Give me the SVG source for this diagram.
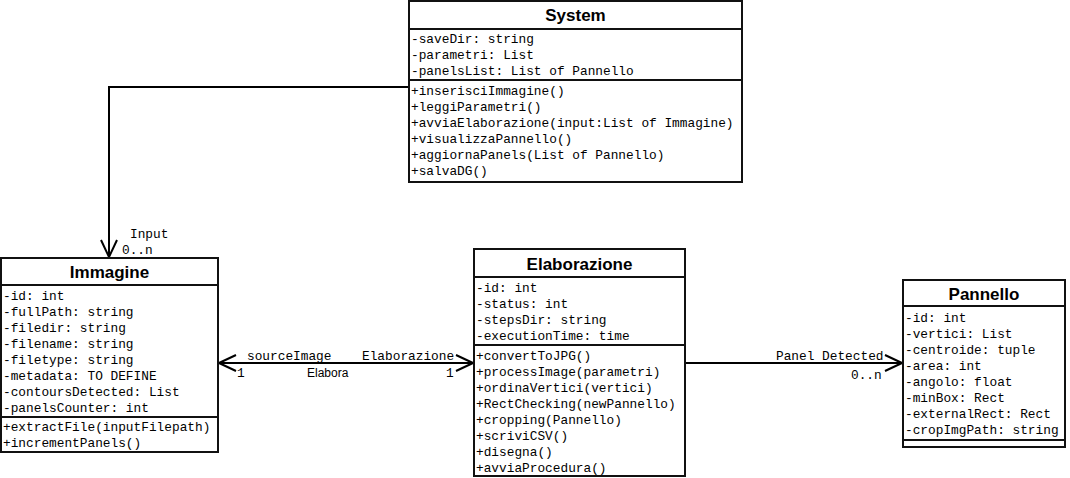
<svg xmlns="http://www.w3.org/2000/svg" width="1070" height="478" viewBox="0 0 1070 478">
  <defs>
    <style>
      .box { fill: #fff; stroke: #111; stroke-width: 2; }
      .sep { stroke: #111; stroke-width: 2; }
      .title { font-family: "Liberation Sans", Arial, sans-serif; font-weight: bold; font-size: 17px; fill: #000; text-anchor: middle; }
      .mono { font-family: "Liberation Mono", "Courier New", monospace; font-size: 12.8px; fill: #000; }
      .sans { font-family: "Liberation Sans", Arial, sans-serif; font-size: 12px; fill: #000; }
      .edge { fill: none; stroke: #000; stroke-width: 2; }
    </style>
    <marker id="open" viewBox="-1 -9 20 18" refX="17" refY="0" markerWidth="20" markerHeight="18" markerUnits="userSpaceOnUse" orient="auto-start-reverse">
      <path d="M0,-8 L17,0 L0,8" fill="none" stroke="#000" stroke-width="2"/>
    </marker>
  </defs>

  <!-- connectors -->
  <g id="connectors">
    <path class="edge" d="M409,87 H109 V257" marker-end="url(#open)"/>
    <text class="mono" x="130" y="238">Input</text>
    <text class="mono" x="122" y="254">0..n</text>

    <path class="edge" d="M219,363 H473" marker-start="url(#open)" marker-end="url(#open)"/>
    <text class="mono" x="247" y="360">sourceImage</text>
    <text class="mono" x="362" y="360">Elaborazione</text>
    <text class="mono" x="237" y="377">1</text>
    <text class="sans" x="307" y="377">Elabora</text>
    <text class="mono" x="446" y="377">1</text>

    <path class="edge" d="M685,363 H902" marker-end="url(#open)"/>
    <text class="mono" x="776" y="360">Panel Detected</text>
    <text class="mono" x="851" y="379">0..n</text>
  </g>

  <!-- System -->
  <g id="system">
    <rect class="box" x="409" y="1" width="333" height="181"/>
    <line class="sep" x1="409" y1="29" x2="742" y2="29"/>
    <line class="sep" x1="409" y1="80" x2="742" y2="80"/>
    <text class="title" x="575.5" y="21">System</text>
    <text class="mono" x="411" y="43">-saveDir: string</text>
    <text class="mono" x="411" y="59">-parametri: List</text>
    <text class="mono" x="411" y="75">-panelsList: List of Pannello</text>
    <text class="mono" x="411" y="95">+inserisciImmagine()</text>
    <text class="mono" x="411" y="111">+leggiParametri()</text>
    <text class="mono" x="411" y="127">+avviaElaborazione(input:List of Immagine)</text>
    <text class="mono" x="411" y="143">+visualizzaPannello()</text>
    <text class="mono" x="411" y="159">+aggiornaPanels(List of Pannello)</text>
    <text class="mono" x="411" y="175">+salvaDG()</text>
  </g>

  <!-- Immagine -->
  <g id="immagine">
    <rect class="box" x="1" y="258" width="217" height="194"/>
    <line class="sep" x1="1" y1="285" x2="218" y2="285"/>
    <line class="sep" x1="1" y1="417" x2="218" y2="417"/>
    <text class="title" x="109.5" y="278">Immagine</text>
    <text class="mono" x="3" y="300">-id: int</text>
    <text class="mono" x="3" y="316">-fullPath: string</text>
    <text class="mono" x="3" y="332">-filedir: string</text>
    <text class="mono" x="3" y="348">-filename: string</text>
    <text class="mono" x="3" y="364">-filetype: string</text>
    <text class="mono" x="3" y="380">-metadata: TO DEFINE</text>
    <text class="mono" x="3" y="396">-contoursDetected: List</text>
    <text class="mono" x="3" y="412">-panelsCounter: int</text>
    <text class="mono" x="3" y="431">+extractFile(inputFilepath)</text>
    <text class="mono" x="3" y="447">+incrementPanels()</text>
  </g>

  <!-- Elaborazione -->
  <g id="elaborazione">
    <rect class="box" x="474" y="249" width="211" height="227"/>
    <line class="sep" x1="474" y1="277" x2="685" y2="277"/>
    <line class="sep" x1="474" y1="345" x2="685" y2="345"/>
    <text class="title" x="579.5" y="270">Elaborazione</text>
    <text class="mono" x="476" y="292">-id: int</text>
    <text class="mono" x="476" y="308">-status: int</text>
    <text class="mono" x="476" y="324">-stepsDir: string</text>
    <text class="mono" x="476" y="340">-executionTime: time</text>
    <text class="mono" x="476" y="360">+convertToJPG()</text>
    <text class="mono" x="476" y="376">+processImage(parametri)</text>
    <text class="mono" x="476" y="392">+ordinaVertici(vertici)</text>
    <text class="mono" x="476" y="408">+RectChecking(newPannello)</text>
    <text class="mono" x="476" y="424">+cropping(Pannello)</text>
    <text class="mono" x="476" y="440">+scriviCSV()</text>
    <text class="mono" x="476" y="456">+disegna()</text>
    <text class="mono" x="476" y="472">+avviaProcedura()</text>
  </g>

  <!-- Pannello -->
  <g id="pannello">
    <rect class="box" x="903" y="280" width="162" height="167"/>
    <line class="sep" x1="903" y1="306" x2="1065" y2="306"/>
    <line class="sep" x1="903" y1="440" x2="1065" y2="440"/>
    <text class="title" x="984" y="300">Pannello</text>
    <text class="mono" x="905" y="322">-id: int</text>
    <text class="mono" x="905" y="338">-vertici: List</text>
    <text class="mono" x="905" y="354">-centroide: tuple</text>
    <text class="mono" x="905" y="370">-area: int</text>
    <text class="mono" x="905" y="386">-angolo: float</text>
    <text class="mono" x="905" y="402">-minBox: Rect</text>
    <text class="mono" x="905" y="418">-externalRect: Rect</text>
    <text class="mono" x="905" y="434">-cropImgPath: string</text>
  </g>
</svg>
